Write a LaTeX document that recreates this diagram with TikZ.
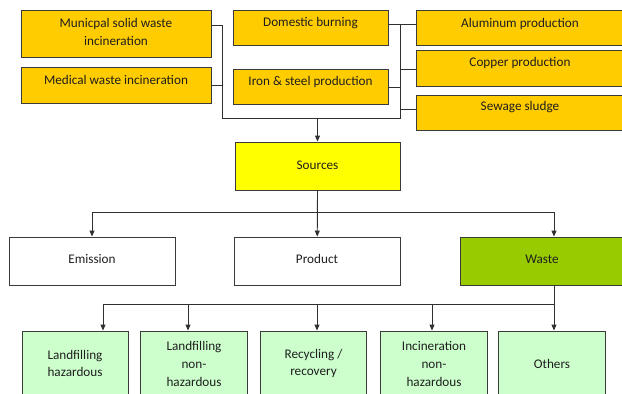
\documentclass[tikz,border=0pt]{standalone}
\usepackage{fontspec}
\setmainfont{Carlito}
\usetikzlibrary{arrows.meta}
\definecolor{orangebox}{HTML}{FFCC00}
\definecolor{yellowbox}{HTML}{FFFF00}
\definecolor{greenbox}{HTML}{99CC00}
\definecolor{lightgreen}{HTML}{CCFFCC}
\definecolor{bordc}{HTML}{3A3A3A}
\definecolor{linec}{HTML}{303030}
\newcommand\mkbox[6]{%
  \node[bx, fill=#6, minimum width={#4-#2}, minimum height={#5-#3}] (#1) at ({(#2+#4)/2},{(#3+#5)/2}) {};}
\begin{document}
\begin{tikzpicture}[x=1pt,y=-1pt,
  bx/.style={draw=bordc, line width=0.9pt, inner sep=0pt},
  txt/.style={font=\fontsize{13.2}{17.8}\selectfont, align=center, inner sep=0pt, text=black!88},
  ln/.style={draw=linec, line width=0.9pt},
  arr/.style={ln, -{Triangle[length=6pt,width=5pt]}}]
\useasboundingbox (0,0) rectangle (622,394);
\clip (0,0) rectangle (622,394);
\fill[white] (0,0) rectangle (622,394);

% top sources
\mkbox{mun}{21}{10}{211}{57}{orangebox}
\mkbox{med}{21}{67}{211}{103}{orangebox}
\mkbox{dom}{233}{10}{388}{45}{orangebox}
\mkbox{iron}{233}{69}{388}{104}{orangebox}
\mkbox{alu}{416}{10}{624}{45}{orangebox}
\mkbox{cop}{416}{50}{624}{86}{orangebox}
\mkbox{sew}{416}{95}{624}{130}{orangebox}
\node[txt] (tmun) at (116,32) {Municpal solid waste\\incineration};
\node[txt] (tmed) at (116,80) {Medical waste incineration};
\node[txt] (tdom) at (310.5,23.3) {Domestic burning};
\node[txt] (tiron) at (310.5,81.7) {Iron \& steel production};
\node[txt] (talu) at (520,24) {Aluminum production};
\node[txt] (tcop) at (520,63.3) {Copper production};
\node[txt] (tsew) at (520,107.3) {Sewage sludge};

% middle
\mkbox{src}{235}{142}{400}{190}{yellowbox}
\node[txt] (tsrc) at (317.5,165) {Sources};
\mkbox{emi}{9.5}{237}{175}{285}{white}
\mkbox{prod}{234.5}{237}{400}{285}{white}
\mkbox{waste}{460}{237}{630}{285}{greenbox}
\node[txt] (temi) at (92,259.3) {Emission};
\node[txt] (tprod) at (317,259.3) {Product};
\node[txt] (twaste) at (542,259.3) {Waste};

% bottom
\mkbox{b1}{22}{331}{128}{398}{lightgreen}
\mkbox{b2}{140.5}{331}{247.5}{398}{lightgreen}
\mkbox{b3}{260.5}{331}{366.5}{398}{lightgreen}
\mkbox{b4}{380.5}{331}{487.5}{398}{lightgreen}
\mkbox{b5}{498.5}{331}{605.5}{398}{lightgreen}
\node[txt] (tb1) at (75,363.5) {Landfilling\\hazardous};
\node[txt] (tb2) at (194,364) {Landfilling\\non-\\hazardous};
\node[txt] (tb3) at (313.5,363.5) {Recycling /\\recovery};
\node[txt] (tb4) at (434,364) {Incineration\\non-\\hazardous};
\node[txt] (tb5) at (552,364.3) {Others};

% top connectors
\coordinate (jl) at (222,118);
\coordinate (jr) at (400,118);
\coordinate (jm) at (317.5,118);
\coordinate (ml) at (222,25);
\coordinate (mr) at (400,24);
\draw[ln] ([yshift=8.5pt]mun.east) -- (ml) -- (jl) -- (jr) -- (mr);
\draw[ln] (med.east) -- (med.east -| jl);
\draw[ln] ([yshift=3.5pt]dom.east) -- ([yshift=3.5pt]alu.west);
\draw[ln] ([yshift=-0.5pt]iron.east) -- ([yshift=-0.5pt]iron.east -| jr);
\draw[ln] ([yshift=-1pt]cop.west) -- ([yshift=-1pt]cop.west -| jr);
\draw[ln] ([yshift=3.5pt]sew.west) -- ([yshift=3.5pt]sew.west -| jr);
\draw[arr] (jm) -- (src.north);

% sources to middle row
\coordinate (h1) at (92,212);
\coordinate (h3) at (554,212);
\draw[ln] (h1) -- (h3);
\draw[arr] (src.south) -- (prod.north);
\draw[arr] (h1) -- (emi.north -| h1);
\draw[arr] (h3) -- (waste.north -| h3);

% waste to bottom row
\coordinate (w0) at (554,285);
\coordinate (w5) at (554,304);
\coordinate (w1) at (103,304);
\coordinate (w2) at (188,304);
\coordinate (w3) at (317,304);
\coordinate (w4) at (432,304);
\draw[ln] (w0) -- (w5) -- (w1);
\draw[arr] (w1) -- (b1.north -| w1);
\draw[arr] (w2) -- (b2.north -| w2);
\draw[arr] (w3) -- (b3.north -| w3);
\draw[arr] (w4) -- (b4.north -| w4);
\draw[arr] (w5) -- (b5.north -| w5);
\end{tikzpicture}
\end{document}
